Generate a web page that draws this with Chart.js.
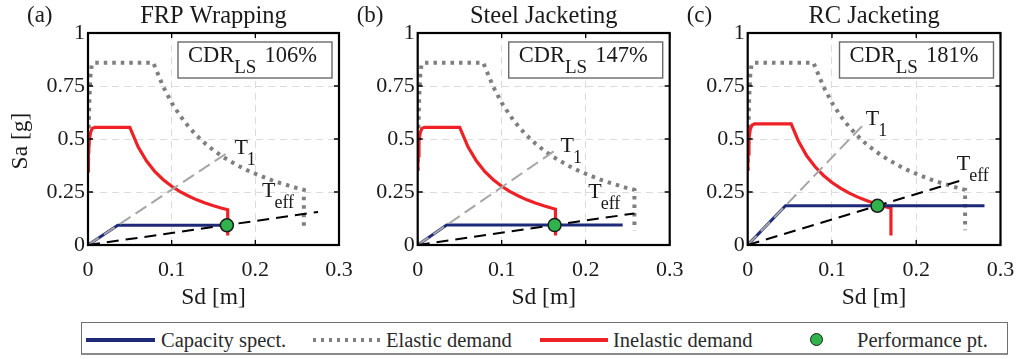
<!DOCTYPE html>
<html>
<head>
<meta charset="utf-8">
<script src="https://cdn.jsdelivr.net/npm/chart.js@4.4.1/dist/chart.umd.min.js"></script>
<style>
  body { margin: 0; background: #fff; width: 1016px; height: 359px; overflow: hidden; position: relative; font-family: "Liberation Serif", "Times New Roman", serif; }
  canvas { position: absolute; top: 0; }
  #legend { position: absolute; left: 81px; top: 322px; width: 927px; height: 33px; box-sizing: border-box;
            border: 1.3px solid #707070; border-bottom: 2.5px solid #8a8a8a; }
  .lg { position: absolute; }
  .txt { font-size: 20.5px; line-height: 20px; color: #2a2a2a; white-space: nowrap; }
</style>
</head>
<body>
<canvas id="panelA" width="360" height="320" style="left:0px"></canvas>
<canvas id="panelB" width="340" height="320" style="left:350px"></canvas>
<canvas id="panelC" width="336" height="320" style="left:680px"></canvas>
<div id="legend"></div>
<script>
const sdTicks = [0, 0.1, 0.2, 0.3];
const saTicks = [0, 0.25, 0.5, 0.75, 1];
const panelTitles = ['FRP Wrapping', 'Steel Jacketing', 'RC Jacketing'];
const panelTags = ['(a)', '(b)', '(c)'];
const cdrValues = ['106%', '147%', '181%'];
const legendLabels = ['Capacity spect.', 'Elastic demand', 'Inelastic demand', 'Performance pt.'];

// elastic demand spectrum (same in all panels)
const elasticSd = [0, 0.0008, 0.0018, 0.003, 0.0045, 0.007, 0.078, 0.09, 0.10, 0.11, 0.12, 0.13, 0.14, 0.15, 0.16, 0.17, 0.18, 0.19, 0.20, 0.21, 0.22, 0.23, 0.24, 0.25, 0.258, 0.258];
const elasticSa = [0.35, 0.55, 0.70, 0.80, 0.85, 0.86, 0.86, 0.746, 0.671, 0.610, 0.559, 0.516, 0.479, 0.447, 0.419, 0.395, 0.373, 0.353, 0.336, 0.320, 0.305, 0.292, 0.280, 0.268, 0.260, 0.07];

// inelastic demand
const inelasticSdA = [0, 0.0005, 0.0015, 0.003, 0.005, 0.008, 0.05, 0.06, 0.07, 0.08, 0.09, 0.10, 0.11, 0.12, 0.13, 0.14, 0.15, 0.16, 0.167, 0.167];
const inelasticSaA = [0.35, 0.42, 0.49, 0.53, 0.55, 0.555, 0.555, 0.462, 0.396, 0.346, 0.308, 0.277, 0.252, 0.231, 0.213, 0.198, 0.185, 0.173, 0.166, 0.045];
const inelasticSdB = [0, 0.0005, 0.0015, 0.003, 0.005, 0.008, 0.05, 0.06, 0.07, 0.08, 0.09, 0.10, 0.11, 0.12, 0.13, 0.14, 0.15, 0.16, 0.164, 0.164];
const inelasticSaB = [0.35, 0.42, 0.49, 0.53, 0.55, 0.555, 0.555, 0.462, 0.396, 0.346, 0.308, 0.277, 0.252, 0.231, 0.213, 0.198, 0.185, 0.173, 0.169, 0.045];
const inelasticSdC = [0, 0.0005, 0.0015, 0.003, 0.005, 0.008, 0.0516, 0.06, 0.07, 0.08, 0.09, 0.10, 0.11, 0.12, 0.13, 0.14, 0.15, 0.16, 0.17, 0.17];
const inelasticSaC = [0.35, 0.43, 0.50, 0.545, 0.565, 0.571, 0.571, 0.492, 0.421, 0.369, 0.328, 0.295, 0.268, 0.246, 0.227, 0.211, 0.197, 0.184, 0.174, 0.045];

// capacity spectra
const capacitySdA = [0, 0.0356, 0.167];
const capacitySaA = [0, 0.093, 0.093];
const capacitySdB = [0, 0.0345, 0.244];
const capacitySaB = [0, 0.094, 0.094];
const capacitySdC = [0, 0.0448, 0.281];
const capacitySaC = [0, 0.185, 0.185];

// period lines (start at origin)
const t1SdA = [0, 0.167], t1SaA = [0, 0.436];
const t1SdB = [0, 0.165], t1SaB = [0, 0.45];
const t1SdC = [0, 0.137], t1SaC = [0, 0.566];
const teffSdA = [0, 0.275], teffSaA = [0, 0.156];
const teffSdB = [0, 0.258], teffSaB = [0, 0.149];
const teffSdC = [0, 0.257], teffSaC = [0, 0.309];

// performance points [Sd, Sa]
const perfA = [0.166, 0.093];
const perfB = [0.163, 0.094];
const perfC = [0.154, 0.185];

// label anchors [Sd, Sa] for T1 and Teff
const t1LabelA = [0.183, 0.458], teffLabelA = [0.216, 0.255];
const t1LabelB = [0.178, 0.467], teffLabelB = [0.211, 0.251];
const t1LabelC = [0.148, 0.594], teffLabelC = [0.256, 0.382];

const SERIF = '"Liberation Serif", "Times New Roman", serif';
const pts = (xs, ys) => xs.map((x, i) => ({ x: x, y: ys[i] }));

const panels = [
  { id: 'panelA', canvasLeft: 0, areaLeft: 88, areaRight: 339,
    inel: [inelasticSdA, inelasticSaA], cap: [capacitySdA, capacitySaA], t1: [t1SdA, t1SaA], teff: [teffSdA, teffSaA],
    perf: perfA, t1Label: t1LabelA, teffLabel: teffLabelA, yTitle: true },
  { id: 'panelB', canvasLeft: 350, areaLeft: 417.7, areaRight: 669.7,
    inel: [inelasticSdB, inelasticSaB], cap: [capacitySdB, capacitySaB], t1: [t1SdB, t1SaB], teff: [teffSdB, teffSaB],
    perf: perfB, t1Label: t1LabelB, teffLabel: teffLabelB, yTitle: false },
  { id: 'panelC', canvasLeft: 680, areaLeft: 747.7, areaRight: 1000.5,
    inel: [inelasticSdC, inelasticSaC], cap: [capacitySdC, capacitySaC], t1: [t1SdC, t1SaC], teff: [teffSdC, teffSaC],
    perf: perfC, t1Label: t1LabelC, teffLabel: teffLabelC, yTitle: false }
];

const AREA_TOP = 33, AREA_BOTTOM = 245;

function labelWithSub(ctx, main, sub, cx, cy, size, subSize) {
  ctx.font = size + 'px ' + SERIF;
  ctx.textAlign = 'center';
  ctx.textBaseline = 'middle';
  ctx.fillText(main, cx, cy);
  const w = ctx.measureText(main).width;
  ctx.font = subSize + 'px ' + SERIF;
  ctx.textAlign = 'left';
  ctx.fillText(sub, cx + w / 2 - 1, cy + 12);
}

function decorPlugin(p, idx) {
  return {
    id: 'decor',
    afterDatasetsDraw(chart) {
      const ctx = chart.ctx, a = chart.chartArea;
      const xs = chart.scales.x, ys = chart.scales.y;
      ctx.save();
      // inward ticks
      ctx.strokeStyle = '#000';
      ctx.lineWidth = 1.3;
      ctx.beginPath();
      sdTicks.forEach(v => {
        const px = xs.getPixelForValue(v);
        ctx.moveTo(px, a.bottom); ctx.lineTo(px, a.bottom - 5);
        ctx.moveTo(px, a.top); ctx.lineTo(px, a.top + 5);
      });
      saTicks.forEach(v => {
        const py = ys.getPixelForValue(v);
        ctx.moveTo(a.left, py); ctx.lineTo(a.left + 5, py);
        ctx.moveTo(a.right, py); ctx.lineTo(a.right - 5, py);
      });
      ctx.stroke();
      // box
      ctx.lineWidth = 2.2;
      ctx.strokeRect(a.left, a.top, a.right - a.left, a.bottom - a.top);

      // CDR box
      const bw = 154, bh = 36;
      const bx = a.right - 7 - bw, by = a.top + 9;
      ctx.fillStyle = '#fff';
      ctx.fillRect(bx, by, bw, bh);
      ctx.strokeStyle = '#6a6a6a';
      ctx.lineWidth = 1.4;
      ctx.strokeRect(bx, by, bw, bh);
      ctx.fillStyle = '#1a1a1a';
      ctx.textAlign = 'left';
      ctx.textBaseline = 'alphabetic';
      ctx.font = '22.5px ' + SERIF;
      let tx = bx + 10;
      ctx.fillText('CDR', tx, by + 20);
      tx += ctx.measureText('CDR').width;
      ctx.font = '19px ' + SERIF;
      ctx.fillText('LS', tx, by + 31);
      tx += ctx.measureText('LS').width + 8;
      ctx.font = '22.5px ' + SERIF;
      ctx.fillText(cdrValues[idx], tx, by + 20);

      // T1 / Teff labels
      ctx.fillStyle = '#1a1a1a';
      labelWithSub(ctx, 'T', '1', xs.getPixelForValue(p.t1Label[0]), ys.getPixelForValue(p.t1Label[1]), 22, 18);
      labelWithSub(ctx, 'T', 'eff', xs.getPixelForValue(p.teffLabel[0]), ys.getPixelForValue(p.teffLabel[1]), 22, 18);
      ctx.restore();
    },
    afterDraw(chart) {
      const ctx = chart.ctx, a = chart.chartArea;
      const mid = (a.left + a.right) / 2;
      ctx.save();
      ctx.fillStyle = '#1a1a1a';
      ctx.textBaseline = 'middle';
      ctx.textAlign = 'center';
      ctx.font = '24.5px ' + SERIF;
      ctx.fillText(panelTitles[idx], mid, 17);
      ctx.font = '23px ' + SERIF;
      ctx.textAlign = 'left';
      ctx.fillText(panelTags[idx], a.left - 61, 16);
      ctx.textAlign = 'center';
      ctx.font = '23.5px ' + SERIF;
      ctx.fillText('Sd [m]', mid, 298);
      if (p.yTitle) {
        ctx.translate(21, (a.top + a.bottom) / 2 + 2);
        ctx.rotate(-Math.PI / 2);
        ctx.fillText('Sa [g]', 0, 0);
      }
      ctx.restore();
    }
  };
}

panels.forEach((p, idx) => {
  const canvas = document.getElementById(p.id);
  const cw = canvas.width, ch = canvas.height;
  const yWidth = p.areaLeft - p.canvasLeft;
  const padRight = p.canvasLeft + cw - p.areaRight;
  const tickFont = { family: SERIF, size: 22 };

  new Chart(canvas.getContext('2d'), {
    type: 'scatter',
    data: {
      datasets: [
        { label: legendLabels[3], data: [{ x: p.perf[0], y: p.perf[1] }], order: 0,
          pointRadius: 6.5, pointBackgroundColor: '#2fb34a', pointBorderColor: '#1c1c1c', pointBorderWidth: 1.5, showLine: false },
        { label: 'Teff', data: pts(p.teff[0], p.teff[1]), order: 1, showLine: true, pointRadius: 0,
          borderColor: '#000', borderWidth: 2, borderDash: [12, 7] },
        { label: 'T1', data: pts(p.t1[0], p.t1[1]), order: 2, showLine: true, pointRadius: 0,
          borderColor: '#a6a6a6', borderWidth: 2, borderDash: [13, 6] },
        { label: legendLabels[0], data: pts(p.cap[0], p.cap[1]), order: 3, showLine: true, pointRadius: 0,
          borderColor: '#1e2a78', borderWidth: 3 },
        { label: legendLabels[2], data: pts(p.inel[0], p.inel[1]), order: 4, showLine: true, pointRadius: 0,
          borderColor: '#ee2226', borderWidth: 3.2 },
        { label: legendLabels[1], data: pts(elasticSd, elasticSa), order: 5, showLine: true, pointRadius: 0,
          borderColor: '#7f7f7f', borderWidth: 4, borderDash: [3.5, 5] }
      ]
    },
    options: {
      responsive: false,
      animation: false,
      events: [],
      layout: { padding: { left: 0, right: padRight, top: AREA_TOP, bottom: 0 } },
      plugins: { legend: { display: false }, tooltip: { enabled: false } },
      scales: {
        x: {
          type: 'linear', min: 0, max: 0.3,
          afterBuildTicks: s => { s.ticks = sdTicks.map(v => ({ value: v })); },
          afterFit: s => { s.height = ch - AREA_BOTTOM; s.paddingLeft = 0; s.paddingRight = 0; },
          grid: { color: '#dcdcdc', lineWidth: 1, drawTicks: false },
          border: { display: false, dash: [7, 5] },
          ticks: { font: tickFont, color: '#1a1a1a', padding: 12, maxRotation: 0, callback: v => String(v) }
        },
        y: {
          type: 'linear', min: 0, max: 1,
          afterBuildTicks: s => { s.ticks = saTicks.map(v => ({ value: v })); },
          afterFit: s => { s.width = yWidth; s.paddingTop = 0; s.paddingBottom = 0; },
          grid: { color: '#dcdcdc', lineWidth: 1, drawTicks: false },
          border: { display: false, dash: [7, 5] },
          ticks: { font: tickFont, color: '#1a1a1a', padding: 3, callback: v => String(v) }
        }
      }
    },
    plugins: [decorPlugin(p, idx)]
  });
});

// legend
function addEl(cls, styles, text) {
  const el = document.createElement('div');
  el.className = cls;
  Object.assign(el.style, styles);
  if (text) el.textContent = text;
  document.body.appendChild(el);
}
addEl('lg', { left: '86px', top: '337.5px', width: '69px', height: '4px', background: '#1e2a78' });
addEl('lg txt', { left: '161px', top: '330px' }, legendLabels[0]);
addEl('lg', { left: '313px', top: '337.5px', width: '68px', height: '4px',
  background: 'repeating-linear-gradient(to right, #7f7f7f 0 3.5px, transparent 3.5px 8px)' });
addEl('lg txt', { left: '386px', top: '330px' }, legendLabels[1]);
addEl('lg', { left: '540px', top: '337.5px', width: '68px', height: '4px', background: '#ee2226' });
addEl('lg txt', { left: '613px', top: '330px' }, legendLabels[2]);
addEl('lg', { left: '810px', top: '332.5px', width: '11px', height: '11px', borderRadius: '50%',
  background: '#2fb34a', border: '1.5px solid #1c1c1c' });
addEl('lg txt', { left: '857px', top: '330px' }, legendLabels[3]);
</script>
</body>
</html>
